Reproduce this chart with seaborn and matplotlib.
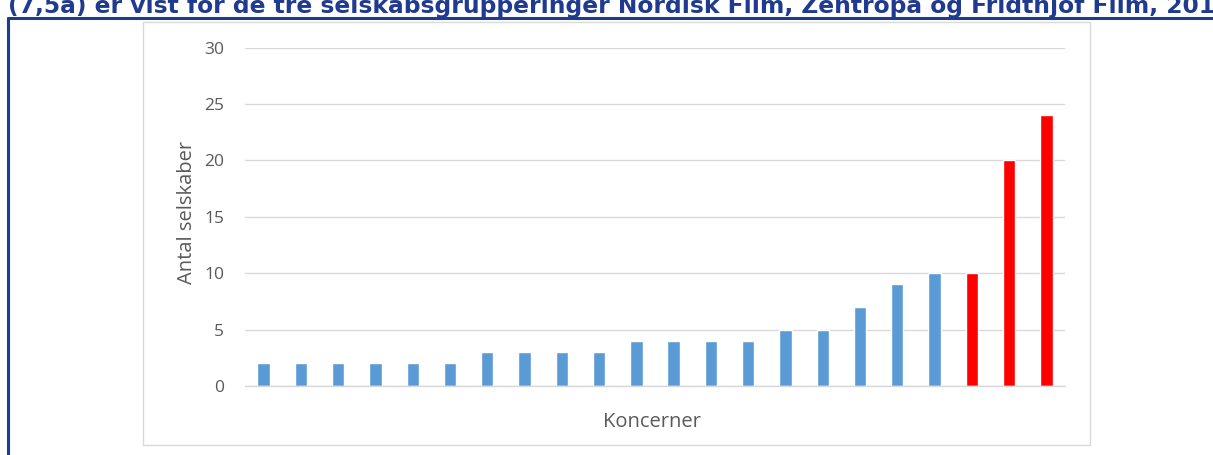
import matplotlib
matplotlib.use("Agg")
import matplotlib.pyplot as plt
import seaborn as sns
import pandas as pd
from matplotlib.lines import Line2D
from matplotlib.patches import Rectangle

# ---- data ----
koncerner = [f"K{i}" for i in range(1, 23)]
antal_selskaber = [2, 2, 2, 2, 2, 2, 3, 3, 3, 3, 4, 4, 4, 4, 5, 5, 7, 9, 10, 10, 20, 24]
gruppe = ["Øvrige"] * 19 + ["Udvalgte"] * 3
y_ticks = [0, 5, 10, 15, 20, 25, 30]
title_text = "(7,5a) er vist for de tre selskabsgrupperinger Nordisk Film, Zentropa og Fridthjof Film, 2014"

df = pd.DataFrame({"Koncern": koncerner, "Antal": antal_selskaber, "Gruppe": gruppe})

sns.set_theme(style="white")
plt.rcParams["font.family"] = ["Open Sans", "DejaVu Sans"]

W, H = 1213, 455
fig = plt.figure(figsize=(W / 100, H / 100), dpi=100)
fig.patch.set_facecolor("white")

def fx(px):
    return px / W

def fy(py):
    return 1 - py / H

# axes placement
left, right, top, bottom = 245, 1065, 47.5, 386
ax = fig.add_axes([fx(left), fy(bottom), fx(right - left), (bottom - top) / H])

sns.barplot(data=df, x="Koncern", y="Antal", hue="Gruppe", dodge=False,
            palette={"Øvrige": "#5B9BD5", "Udvalgte": "#FF0000"},
            width=0.33, legend=False, ax=ax, saturation=1)

ax.set_ylim(0, 30)
ax.set_xlim(-0.5, len(koncerner) - 0.5)
ax.set_yticks(y_ticks)
ax.set_yticklabels([str(t) for t in y_ticks])
ax.set_xticks([])
ax.yaxis.grid(True, color="#d9d9d9", linewidth=1.0)
ax.set_axisbelow(True)
for s in ["top", "right", "left"]:
    ax.spines[s].set_visible(False)
ax.spines["bottom"].set_color("#d9d9d9")
ax.spines["bottom"].set_linewidth(1.0)
ax.tick_params(axis="y", length=0, pad=15, labelsize=12.5, labelcolor="#595959")
ax.set_ylabel("")
ax.set_xlabel("")

fig.text(fx(187), fy(212), "Antal selskaber", rotation=90, ha="center", va="center",
         fontsize=14.5, color="#595959")
fig.text(fx(652), fy(422), "Koncerner", ha="center", va="center",
         fontsize=14.5, color="#595959")

# inner chart frame
fig.add_artist(Rectangle((fx(143), fy(445)), fx(1090 - 143), (445 - 22) / H,
                         transform=fig.transFigure, fill=False,
                         edgecolor="#d9d9d9", linewidth=1.0))

# outer navy frame (top & left)
navy = "#1F3A8F"
fig.add_artist(Line2D([fx(8), 1.0], [fy(18), fy(18)], transform=fig.transFigure,
                      color=navy, linewidth=2.2))
fig.add_artist(Line2D([fx(8), fx(8)], [fy(18), 0.0], transform=fig.transFigure,
                      color=navy, linewidth=2.2))

# cut-off title
fig.text(fx(8), fy(12.5), title_text, ha="left", va="baseline", fontsize=16.8,
         fontweight="bold", color=navy, family=["DejaVu Sans"])

fig.savefig("out.png", dpi=100)
